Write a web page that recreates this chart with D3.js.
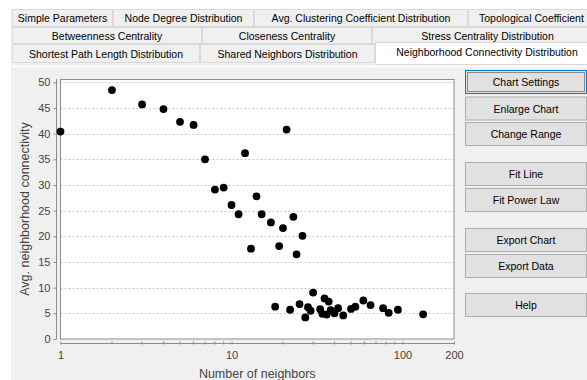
<!DOCTYPE html>
<html>
<head>
<meta charset="utf-8">
<script src="https://cdn.jsdelivr.net/npm/d3@7"></script>
<style>
  body { margin: 0; background: #ffffff; }
  svg { display: block; font-family: "Liberation Sans", Arial, sans-serif; }
</style>
</head>
<body>
<svg id="chart" width="587" height="380"></svg>
<script>
// Node degree (number of neighbors) and average neighborhood connectivity
const degree = [1, 2, 3, 4, 5, 6, 7, 8, 9, 10, 11, 12, 13, 14, 15, 17, 19, 20, 21, 23, 24, 26,
                18, 22, 25, 27, 28, 29, 30, 33, 34, 35, 36, 37, 38, 40, 42, 45, 50, 53, 59, 65, 77, 83, 94, 132];
const connectivity = [40.4, 48.5, 45.7, 44.8, 42.3, 41.7, 35.0, 29.1, 29.5, 26.1, 24.3, 36.2, 17.6, 27.8, 24.3, 22.7, 18.1, 21.6, 40.8, 23.8, 16.5, 20.1,
                      6.3, 5.7, 6.8, 4.2, 6.2, 5.5, 9.05, 5.8, 4.9, 7.9, 4.75, 7.3, 5.6, 5.0, 6.0, 4.6, 5.85, 6.3, 7.5, 6.6, 6.0, 5.1, 5.7, 4.8];

const yTicks = [0, 5, 10, 15, 20, 25, 30, 35, 40, 45, 50];
const xMajorTicks = [1, 10, 100, 200];
const xMinorTicks = [2, 3, 4, 5, 6, 7, 8, 9, 20, 30, 40, 50, 60, 70, 80, 90];

const xTitle = "Number of neighbors";
const yTitle = "Avg. neighborhood connectivity";

// Tab strip rows, top to bottom
const tabRow1 = ["Simple Parameters", "Node Degree Distribution", "Avg. Clustering Coefficient Distribution", "Topological Coefficient Distribution"];
const tabRow2 = ["Betweenness Centrality", "Closeness Centrality", "Stress Centrality Distribution"];
const tabRow3 = ["Shortest Path Length Distribution", "Shared Neighbors Distribution", "Neighborhood Connectivity Distribution"];
const selectedTab = "Neighborhood Connectivity Distribution";

// Side buttons
const buttonLabels = ["Chart Settings", "Enlarge Chart", "Change Range", "Fit Line", "Fit Power Law", "Export Chart", "Export Data", "Help"];

const W = 587;
const svg = d3.select("#chart");

// ---------- window / panel backgrounds ----------
svg.append("rect").attr("x", 11).attr("y", 9).attr("width", 576).attr("height", 371).attr("fill", "#f0f0f0");

// ---------- tabs ----------
const rowGeom = [
  { labels: tabRow1, y: 9, h: 18, base: 22, edges: [12, 113, 254, 468, 690] },
  { labels: tabRow2, y: 27, h: 17, base: 39.5, edges: [12, 202, 372, 603] },
  { labels: tabRow3, y: 44, h: 19, base: 58, edges: [12, 200, 375, 599] }
];

rowGeom.forEach(row => {
  const g = svg.append("g");
  row.labels.forEach((lab, i) => {
    const x0 = row.edges[i], x1 = row.edges[i + 1];
    const sel = lab === selectedTab;
    const y0 = sel ? row.y - 2 : row.y;
    const h = sel ? row.h + 4 : row.h;
    // a tab running past the window edge keeps its leading padding
    const overflow = x1 > W + 40;
    g.append("rect")
      .attr("x", x0 + 0.5).attr("y", y0 + 0.5)
      .attr("width", x1 - x0 - 1).attr("height", h - 1)
      .attr("fill", sel ? "#ffffff" : "#f0f0f0")
      .attr("stroke", "#d9d9d9");
    g.append("text")
      .attr("x", overflow ? x0 + 11 : (x0 + x1) / 2).attr("y", sel ? row.base - 2.5 : row.base)
      .attr("text-anchor", overflow ? "start" : "middle")
      .attr("font-size", 10.5).attr("fill", "#000")
      .text(lab);
  });
});

// content panel top edge
svg.append("line").attr("x1", 12).attr("x2", 587).attr("y1", 66.5).attr("y2", 66.5)
  .attr("stroke", "#ffffff").attr("stroke-width", 1.5);

// ---------- chart ----------
const plot = { left: 60.5, right: 454, top: 79, bottom: 339 };

const x = d3.scaleLog().domain([1, 200]).range([plot.left, plot.right]);
const y = d3.scaleLinear().domain([0, 50.65]).range([plot.bottom, plot.top]);

// plot background
svg.append("rect")
  .attr("x", plot.left).attr("y", plot.top)
  .attr("width", plot.right - plot.left).attr("height", plot.bottom - plot.top)
  .attr("fill", "#ffffff");

// horizontal gridlines
svg.append("g").selectAll("line").data(yTicks.filter(d => d > 0)).join("line")
  .attr("x1", plot.left).attr("x2", plot.right)
  .attr("y1", d => Math.round(y(d)) + 0.5).attr("y2", d => Math.round(y(d)) + 0.5)
  .attr("stroke", "#c8c8c8").attr("stroke-width", 1).attr("stroke-dasharray", "2,2");

// plot outline
svg.append("rect")
  .attr("x", plot.left).attr("y", plot.top + 0.5)
  .attr("width", plot.right - plot.left).attr("height", plot.bottom - plot.top - 0.5)
  .attr("fill", "none").attr("stroke", "#8c8c8c");

// y axis (offset to the left of the plot)
const yAxis = d3.axisLeft(y).tickValues(yTicks).tickSize(3).tickPadding(3).tickFormat(d3.format("d"));
const gy = svg.append("g").attr("transform", "translate(56.5,0)").call(yAxis);
gy.select(".domain").attr("d", `M0,${plot.top}V${plot.bottom}`).attr("stroke", "#8c8c8c");
gy.selectAll(".tick line").attr("stroke", "#8c8c8c");
gy.selectAll(".tick text").attr("font-size", 11).attr("fill", "#444").attr("font-family", "Liberation Sans, Arial, sans-serif");

// x axis (offset below the plot), log scale with minor ticks
const xAxis = d3.axisBottom(x).tickValues(xMajorTicks).tickSize(3).tickPadding(5).tickFormat(d3.format("d"));
const gx = svg.append("g").attr("transform", "translate(0,343.5)").call(xAxis);
gx.select(".domain").attr("d", `M${plot.left},0H${plot.right}`).attr("stroke", "#8c8c8c");
gx.selectAll(".tick line").attr("y1", -2).attr("y2", 1).attr("stroke", "#8c8c8c");
gx.selectAll(".tick text").attr("font-size", 11).attr("fill", "#444").attr("font-family", "Liberation Sans, Arial, sans-serif");
gx.append("g").selectAll("line").data(xMinorTicks).join("line")
  .attr("x1", d => x(d)).attr("x2", d => x(d))
  .attr("y1", -2).attr("y2", 1).attr("stroke", "#8c8c8c");

// axis titles
svg.append("text")
  .attr("x", (plot.left + plot.right) / 2).attr("y", 378)
  .attr("text-anchor", "middle").attr("font-size", 12.5).attr("fill", "#444")
  .text(xTitle);
svg.append("text")
  .attr("transform", `translate(29,${(plot.top + plot.bottom) / 2}) rotate(-90)`)
  .attr("text-anchor", "middle").attr("font-size", 12.5).attr("fill", "#444")
  .text(yTitle);

// data points
svg.append("g").selectAll("circle").data(degree.map((d, i) => [d, connectivity[i]])).join("circle")
  .attr("cx", d => x(d[0])).attr("cy", d => y(d[1]))
  .attr("r", 3.9).attr("fill", "#000");

// ---------- side buttons ----------
const buttonTops = [70, 96.5, 122, 162, 188, 228, 254, 293];
const bg = svg.append("g");
buttonLabels.forEach((lab, i) => {
  const top = buttonTops[i];
  const focused = i === 0;
  bg.append("rect")
    .attr("x", 465.5).attr("y", top + 0.5).attr("width", 121).attr("height", 23)
    .attr("fill", "#e1e1e1").attr("stroke", focused ? "#0078d7" : "#adadad");
  if (focused) {
    bg.append("rect")
      .attr("x", 467.5).attr("y", top + 2.5).attr("width", 117).attr("height", 19)
      .attr("fill", "none").attr("stroke", "#333").attr("stroke-dasharray", "1,1");
  }
  bg.append("text")
    .attr("x", 526).attr("y", top + 16)
    .attr("text-anchor", "middle").attr("font-size", 10.5).attr("fill", "#000")
    .text(lab);
});
</script>
</body>
</html>
